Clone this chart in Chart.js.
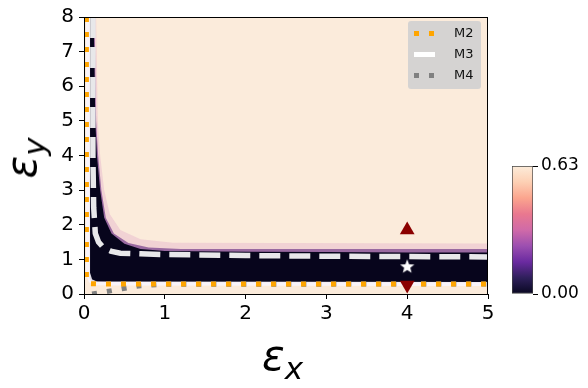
<!DOCTYPE html>
<html>
<head>
<meta charset="utf-8">
<script src="https://cdn.jsdelivr.net/npm/chart.js@4.4.1/dist/chart.umd.min.js"></script>
<style>
body { margin: 0; background: #fff; }
#wrap { position: relative; width: 588px; height: 388px; font-family: 'DejaVu Sans', sans-serif; }
#main { position: absolute; left: 0; top: 0; }
#cbar { position: absolute; left: 490px; top: 150px; }
.lab { position: absolute; color: #000; white-space: nowrap; line-height: 1; font-style: italic; }
#legend { position: absolute; left: 408px; top: 21px; width: 73px; height: 68px;
  background: rgba(208, 208, 208, 0.9); border-radius: 3px; }
#legend .row { position: absolute; left: 0; width: 73px; height: 14px; }
#legend .sw { position: absolute; left: 6px; top: 5px; width: 21px; height: 5px; }
#legend .txt { position: absolute; left: 46px; top: 0; font-size: 13px; line-height: 14px; color: #111; }
</style>
</head>
<body>
<div id="wrap">
  <canvas id="main" width="588" height="388"></canvas>
  <canvas id="cbar" width="98" height="160"></canvas>
  <div id="legend"></div>
  <div class="lab" id="xlab" style="left:262px; top:335px; font-size:42px;">ε<span style="font-size:31px; position:relative; top:9px;">x</span></div>
  <div class="lab" id="ylab" style="left:22px; top:158px; font-size:42px; transform: translate(-50%, -50%) rotate(-90deg);">ε<span style="font-size:31px; position:relative; top:9px;">y</span></div>
</div>
<script>
const xTicks = [0, 1, 2, 3, 4, 5];
const yTicks = [0, 1, 2, 3, 4, 5, 6, 7, 8];
const cbarTicks = [0, 0.63];
const legendNames = ['M2', 'M3', 'M4'];

// heat map: dark band where the value is ~0, with a speckled fringe above it
const bandTopX = [0.07, 0.12, 0.14, 0.16, 0.2, 0.25, 0.34, 0.5, 0.7, 1, 2, 3, 4, 5];
const bandTopY = [8, 8, 5, 4, 3, 2.2, 1.75, 1.45, 1.3, 1.24, 1.22, 1.21, 1.2, 1.2];
const bandBotX = [0.07, 0.1, 0.3, 5];
const bandBotY = [0.45, 0.36, 0.35, 0.34];
const fringeInX = [0.07, 0.13, 0.15, 0.175, 0.215, 0.27, 0.37, 0.55, 0.8, 1.2, 5];
const fringeInY = [8, 8, 5, 4, 3, 2.2, 1.75, 1.47, 1.34, 1.3, 1.3];
const fringeOutX = [0.07, 0.15, 0.17, 0.2, 0.25, 0.32, 0.45, 0.7, 1.1, 5];
const fringeOutY = [8, 8, 5, 4, 3, 2.3, 1.85, 1.58, 1.48, 1.46];

// model curves
const m2X = [0.03, 0.03, 0.06, 0.2, 5];
const m2Y = [8, 0.35, 0.3, 0.29, 0.29];
const m3X = [0.11, 0.11, 0.12, 0.14, 0.18, 0.24, 0.33, 0.45, 0.7, 1, 2, 3, 5];
const m3Y = [8, 4, 2.5, 1.75, 1.5, 1.34, 1.24, 1.18, 1.16, 1.14, 1.11, 1.09, 1.07];
const m3LowX = [0.05, 0.05, 0.08, 0.15, 0.4, 5];
const m3LowY = [8, 0.6, 0.38, 0.31, 0.3, 0.29];
const m4X = [0.1, 0.28, 0.47, 0.7, 1, 5];
const m4Y = [0.0, 0.07, 0.15, 0.24, 0.28, 0.29];

// markers
const upX = [4], upY = [1.85];
const starX = [4], starY = [0.8];
const downX = [4], downY = [0.26];

const cream = '#fbebdb';
const cbarStops = ['#080720', '#2e1f5a', '#6a2aa0', '#9c4fb0', '#d06aa8', '#e9788f', '#fba58e', '#fdd0b4', '#fcecda'];

function pts(xs, ys) {
    return xs.map((x, i) => ({ x: x, y: ys[i] }));
}

function starImage() {
    const c = document.createElement('canvas');
    c.width = 16; c.height = 16;
    const g = c.getContext('2d');
    g.beginPath();
    for (let i = 0; i < 10; i++) {
        const r = i % 2 === 0 ? 7.5 : 3.2;
        const a = -Math.PI / 2 + i * Math.PI / 5;
        const px = 8 + r * Math.cos(a), py = 8.5 + r * Math.sin(a);
        if (i === 0) g.moveTo(px, py); else g.lineTo(px, py);
    }
    g.closePath();
    g.fillStyle = '#ffffff';
    g.fill();
    return c;
}

const frame = {
    id: 'frame',
    beforeDatasetsDraw(chart) {
        const a = chart.chartArea, c = chart.ctx;
        c.save();
        c.fillStyle = cream;
        c.fillRect(a.left, a.top, a.right - a.left, a.bottom - a.top);
        c.restore();
    },
    afterDatasetsDraw(chart) {
        const a = chart.chartArea, c = chart.ctx;
        c.save();
        c.strokeStyle = '#000';
        c.lineWidth = 1;
        c.strokeRect(a.left + 0.5, a.top + 0.5, a.right - a.left - 1, a.bottom - a.top);
        c.restore();
    }
};

const line = (data, color, width, dash, extra) => Object.assign({
    data: data, borderColor: color, borderWidth: width, borderDash: dash,
    borderCapStyle: 'butt', pointRadius: 0, fill: false, tension: 0
}, extra || {});

const marker = (data, style, color, radius, rot) => ({
    data: data, showLine: false, pointStyle: style, pointRadius: radius,
    pointRotation: rot, backgroundColor: color, borderColor: color, borderWidth: 0
});

new Chart(document.getElementById('main'), {
    type: 'line',
    data: {
        datasets: [
            marker(pts(upX, upY), 'triangle', '#8b0000', 8.5, 0),
            marker(pts(starX, starY), starImage(), '#ffffff', 8, 0),
            marker(pts(downX, downY), 'triangle', '#8b0000', 8.5, 180),
            line(pts(m2X, m2Y), '#ffa500', 5, [5, 10]),
            line(pts(m4X, m4Y), '#808080', 5, [5, 10]),
            line(pts(m3X, m3Y), '#e8e8ea', 5.5, [21, 9]),
            line(pts(m3LowX, m3LowY), 'rgba(248,245,252,0.9)', 4, []),
            line(pts(bandTopX, bandTopY), 'rgba(0,0,0,0)', 0, [], { fill: 10, backgroundColor: '#07051c' }),
            line(pts(fringeInX, fringeInY), 'rgba(0,0,0,0)', 0, [], { fill: 10, backgroundColor: 'rgba(95,35,125,0.6)' }),
            line(pts(fringeOutX, fringeOutY), 'rgba(0,0,0,0)', 0, [], { fill: 10, backgroundColor: 'rgba(205,110,185,0.2)' }),
            line(pts(bandBotX, bandBotY), 'rgba(0,0,0,0)', 0, [])
        ]
    },
    options: {
        responsive: false,
        animation: false,
        layout: { padding: { top: 14, right: 100, left: 0, bottom: 0 } },
        plugins: { legend: { display: false }, tooltip: { enabled: false } },
        scales: {
            x: {
                type: 'linear', min: 0, max: 5,
                afterBuildTicks: s => { s.ticks = xTicks.map(v => ({ value: v })); },
                afterFit: s => { s.height = 94; },
                ticks: { color: '#000', padding: 3, font: { family: 'DejaVu Sans', size: 20 } },
                grid: { drawOnChartArea: false, color: '#000', tickLength: 5 },
                border: { color: '#000', width: 1 }
            },
            y: {
                type: 'linear', min: 0, max: 8,
                afterBuildTicks: s => { s.ticks = yTicks.map(v => ({ value: v })); },
                afterFit: s => { s.width = 84; },
                ticks: { color: '#000', padding: 5, font: { family: 'DejaVu Sans', size: 20 } },
                grid: { drawOnChartArea: false, color: '#000', tickLength: 5 },
                border: { color: '#000', width: 1 }
            }
        }
    },
    plugins: [frame]
});

new Chart(document.getElementById('cbar'), {
    type: 'bar',
    data: {
        labels: ['v'],
        datasets: [{
            data: [[cbarTicks[0], cbarTicks[1]]],
            backgroundColor: ctx => {
                const a = ctx.chart.chartArea;
                if (!a) return cbarStops[0];
                const g = ctx.chart.ctx.createLinearGradient(0, a.bottom, 0, a.top);
                cbarStops.forEach((c, i) => g.addColorStop(i / (cbarStops.length - 1), c));
                return g;
            },
            borderColor: '#444',
            borderWidth: 1,
            borderSkipped: false,
            categoryPercentage: 1,
            barPercentage: 1
        }]
    },
    options: {
        responsive: false,
        animation: false,
        layout: { padding: { top: 16, bottom: 16, left: 22, right: 0 } },
        plugins: { legend: { display: false }, tooltip: { enabled: false } },
        scales: {
            x: { display: false },
            y: {
                position: 'right', min: cbarTicks[0], max: cbarTicks[1],
                afterBuildTicks: s => { s.ticks = cbarTicks.map(v => ({ value: v })); },
                afterFit: s => { s.width = 55; },
                ticks: { color: '#000', padding: 3, font: { family: 'DejaVu Sans', size: 17 }, callback: v => v.toFixed(2) },
                grid: { drawOnChartArea: false, color: '#000', tickLength: 5 },
                border: { display: false }
            }
        }
    }
});

// legend box
const legendColors = ['#ffa500', '#ffffff', '#808080'];
const legendSolid = [false, true, false];
const rowCenters = [33, 54, 75];
const legendEl = document.getElementById('legend');
legendNames.forEach((name, i) => {
    const row = document.createElement('div');
    row.className = 'row';
    row.style.top = (rowCenters[i] - 21 - 7) + 'px';
    const sw = document.createElement('span');
    sw.className = 'sw';
    sw.style.background = legendSolid[i]
        ? legendColors[i]
        : 'repeating-linear-gradient(to right, ' + legendColors[i] + ' 0 5px, transparent 5px 15px)';
    const t = document.createElement('span');
    t.className = 'txt';
    t.textContent = name;
    row.appendChild(sw);
    row.appendChild(t);
    legendEl.appendChild(row);
});
</script>
</body>
</html>
